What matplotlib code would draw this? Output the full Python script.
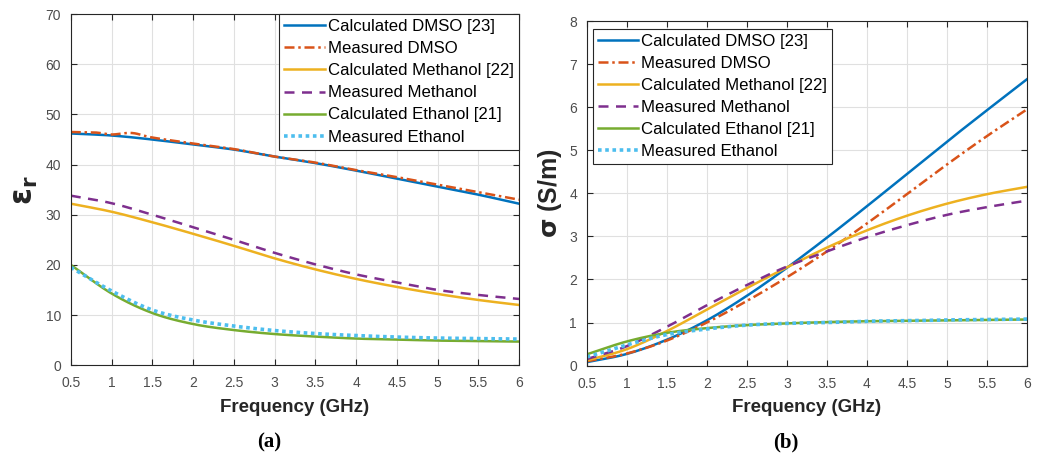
import numpy as np
import matplotlib
matplotlib.use("Agg")
import matplotlib.pyplot as plt

plt.rcParams.update({
    'font.family': ['Liberation Sans', 'DejaVu Sans'],
    'font.size': 10,
    'axes.edgecolor': '#262626',
    'axes.linewidth': 0.8,
    'xtick.direction': 'in',
    'ytick.direction': 'in',
    'xtick.top': True,
    'ytick.right': True,
    'xtick.color': '#262626',
    'ytick.color': '#262626',
    'xtick.labelcolor': '#4d4d4d',
    'ytick.labelcolor': '#4d4d4d',
    'xtick.labelsize': 10,
    'ytick.labelsize': 10,
    'mathtext.default': 'bf',
})

# ---------------------------
# DATA
# ---------------------------
freq = [0.5, 1.0, 1.5, 2.0, 2.5, 3.0, 3.5, 4.0, 4.5, 5.0, 5.5, 6.0]

# relative permittivity
eps_dmso_calc = [46.2, 45.8, 45.0, 44.0, 43.0, 41.6, 40.3, 38.8, 37.2, 35.6, 34.0, 32.2]
freq_dmso_meas = [0.5, 0.8, 1.0, 1.25, 1.5, 2.0, 2.5, 3.0, 3.5, 4.0, 4.5, 5.0, 5.5, 6.0]
eps_dmso_meas = [46.5, 46.4, 46.0, 46.3, 45.4, 44.2, 43.1, 41.6, 40.4, 38.9, 37.5, 36.0, 34.5, 33.0]
eps_meth_calc = [32.2, 30.6, 28.5, 26.2, 23.8, 21.3, 19.1, 17.2, 15.6, 14.2, 13.0, 12.0]
eps_meth_meas = [33.8, 32.3, 30.0, 27.5, 25.0, 22.4, 20.1, 18.1, 16.5, 15.0, 14.0, 13.2]
eps_eth_calc = [20.0, 14.3, 10.4, 8.2, 7.0, 6.2, 5.7, 5.3, 5.1, 4.9, 4.8, 4.7]
eps_eth_meas = [19.5, 14.8, 11.0, 9.0, 7.8, 6.9, 6.3, 5.9, 5.6, 5.4, 5.3, 5.2]

# conductivity (S/m)
sig_dmso_calc = [0.08, 0.27, 0.60, 1.05, 1.62, 2.27, 2.97, 3.70, 4.45, 5.20, 5.93, 6.65]
sig_dmso_meas = [0.10, 0.28, 0.58, 1.00, 1.50, 2.05, 2.65, 3.30, 3.98, 4.67, 5.33, 5.95]
sig_meth_calc = [0.12, 0.38, 0.80, 1.30, 1.80, 2.28, 2.74, 3.14, 3.48, 3.76, 3.98, 4.15]
sig_meth_meas = [0.15, 0.45, 0.90, 1.40, 1.87, 2.30, 2.65, 2.98, 3.26, 3.50, 3.68, 3.83]
sig_eth_calc = [0.26, 0.56, 0.76, 0.87, 0.94, 0.98, 1.01, 1.03, 1.04, 1.05, 1.06, 1.07]
sig_eth_meas = [0.20, 0.48, 0.72, 0.85, 0.94, 0.98, 1.00, 1.03, 1.04, 1.06, 1.07, 1.08]

labels = ['Calculated DMSO [23]', 'Measured DMSO', 'Calculated Methanol [22]',
          'Measured Methanol', 'Calculated Ethanol [21]', 'Measured Ethanol']


def smooth(x, y):
    # Catmull-Rom curve through the sampled points
    x = np.asarray(x, float)
    y = np.asarray(y, float)
    xs, ys = [], []
    for i in range(len(x) - 1):
        x0 = x[i - 1] if i > 0 else 2 * x[0] - x[1]
        y0 = y[i - 1] if i > 0 else 2 * y[0] - y[1]
        x3 = x[i + 2] if i + 2 < len(x) else 2 * x[-1] - x[-2]
        y3 = y[i + 2] if i + 2 < len(y) else 2 * y[-1] - y[-2]
        t = np.linspace(0, 1, 20, endpoint=False)
        for p0, p1, p2, p3, out in ((x0, x[i], x[i + 1], x3, xs), (y0, y[i], y[i + 1], y3, ys)):
            out.extend(0.5 * (2 * p1 + (-p0 + p2) * t + (2 * p0 - 5 * p1 + 4 * p2 - p3) * t ** 2
                              + (-p0 + 3 * p1 - 3 * p2 + p3) * t ** 3))
    xs.append(x[-1])
    ys.append(y[-1])
    return np.array(xs), np.array(ys)


styles = [
    dict(color='#0072BD', ls='-', lw=1.8),
    dict(color='#D95319', ls=(0, (4, 1.5, 1, 1.5)), lw=1.8),
    dict(color='#EDB120', ls='-', lw=1.8),
    dict(color='#7E2F8E', ls=(0, (4, 3)), lw=1.8),
    dict(color='#77AC30', ls='-', lw=1.8),
    dict(color='#4DBEEE', ls=(0, (1, 1)), lw=2.6),
]

fig = plt.figure(figsize=(10.41, 4.57), dpi=100)
ax1 = fig.add_axes([0.068, 0.201, 0.4306, 0.768])
ax2 = fig.add_axes([0.5636, 0.200, 0.4230, 0.754])

series_a = [(freq, eps_dmso_calc), (freq_dmso_meas, eps_dmso_meas), (freq, eps_meth_calc),
            (freq, eps_meth_meas), (freq, eps_eth_calc), (freq, eps_eth_meas)]
series_b = [(freq, sig_dmso_calc), (freq, sig_dmso_meas), (freq, sig_meth_calc),
            (freq, sig_meth_meas), (freq, sig_eth_calc), (freq, sig_eth_meas)]

for ax, series in ((ax1, series_a), (ax2, series_b)):
    for (fx, fy), st, lab in zip(series, styles, labels):
        xs, ys = smooth(fx, fy)
        ax.plot(xs, ys, label=lab, **st)
    ax.set_xlim(0.5, 6)
    ax.set_xticks(np.arange(0.5, 6.01, 0.5))
    ax.set_xticklabels(['0.5', '1', '1.5', '2', '2.5', '3', '3.5', '4', '4.5', '5', '5.5', '6'])
    ax.grid(True, color='#e0e0e0', lw=0.8)
    ax.set_axisbelow(True)
    ax.tick_params(axis='x', length=4, width=0.8, pad=8)
    ax.tick_params(axis='y', length=4, width=0.8, pad=7)
    ax.set_xlabel('Frequency (GHz)', fontsize=13.5, fontweight='bold', color='#262626', labelpad=6)

ax1.set_ylim(0, 70)
ax1.set_yticks(np.arange(0, 71, 10))
ax1.set_ylabel(r'$\epsilon_r$', fontsize=22, color='#262626', labelpad=4)

ax2.set_ylim(0, 8)
ax2.set_yticks(np.arange(0, 9, 1))
ax2.set_ylabel(r'$\sigma$ (S/m)', fontsize=18, fontweight='bold', color='#262626', labelpad=4)

leg_kw = dict(fontsize=12.1, frameon=True, fancybox=False, edgecolor='#262626',
              framealpha=1, borderpad=0.3, labelspacing=0.42, handlelength=2.4,
              handletextpad=0.2, borderaxespad=0)
leg1 = ax1.legend(loc='upper right', **leg_kw)
leg2 = ax2.legend(loc='upper left', bbox_to_anchor=(0.0136, 0.978), **leg_kw)
for leg in (leg1, leg2):
    leg.get_frame().set_linewidth(0.8)

serif = ['Liberation Serif', 'DejaVu Serif']
fig.text(269 / 1041, 0.031, '(a)', fontsize=15, fontweight='bold', family=serif, ha='center', va='center')
fig.text(786 / 1041, 0.031, '(b)', fontsize=15, fontweight='bold', family=serif, ha='center', va='center')

fig.savefig('out.png', dpi=100)
